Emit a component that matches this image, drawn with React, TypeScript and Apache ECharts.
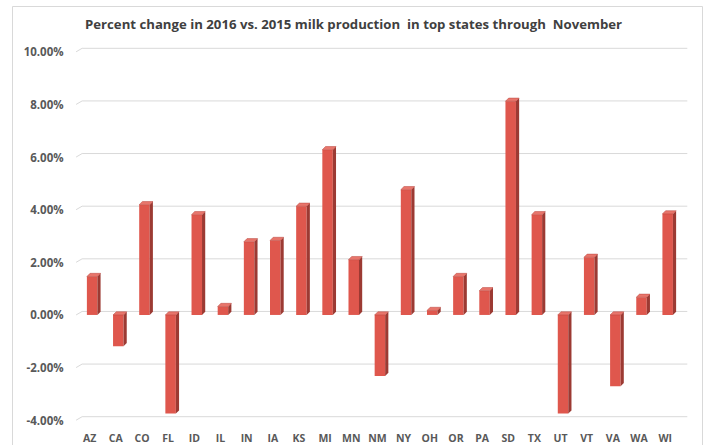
import React, { useEffect, useRef } from "react";
import * as echarts from "echarts";

const titleText =
  "Percent change in 2016 vs. 2015 milk production  in top states through  November";
const categories = [
  "AZ", "CA", "CO", "FL", "ID", "IL", "IN", "IA", "KS", "MI", "MN", "NM",
  "NY", "OH", "OR", "PA", "SD", "TX", "UT", "VT", "VA", "WA", "WI",
];
const values = [
  1.46, -1.19, 4.19, -3.75, 3.81, 0.32, 2.78, 2.83, 4.13, 6.28, 2.1, -2.32,
  4.76, 0.17, 1.46, 0.92, 8.12, 3.81, -3.75, 2.19, -2.71, 0.67, 3.84,
];
const yTicks = [-4, -2, 0, 2, 4, 6, 8, 10];

export default function App() {
  const ref = useRef<HTMLDivElement>(null);
  useEffect(() => {
    if (!ref.current) return;
    const chart = echarts.init(ref.current, null, { renderer: "svg" });
    const font = "'Open Sans', sans-serif";
    chart.setOption({
      animation: false,
      backgroundColor: "#ffffff",
      title: {
        text: titleText,
        left: "center",
        top: 12,
        textStyle: { fontSize: 13.2, fontWeight: "bold", color: "#404040", fontFamily: font },
      },
      graphic: [
        {
          type: "rect",
          left: 10,
          top: 4,
          shape: { width: 690, height: 470 },
          style: { fill: "none", stroke: "#d9d9d9", lineWidth: 1 },
          silent: true,
        },
      ],
      grid: { left: 76.6, right: 28.7, top: 51.8, height: 368.4 },
      xAxis: {
        type: "category",
        data: categories,
        axisLine: { show: false },
        axisTick: { show: false },
        axisLabel: {
          interval: 0,
          margin: 12,
          fontSize: 10.5,
          fontWeight: "bold",
          color: "#595959",
          fontFamily: font,
        },
      },
      yAxis: {
        type: "value",
        min: -4,
        max: 10,
        interval: 2,
        splitLine: { show: false },
        axisLine: { show: false },
        axisTick: { show: false },
        axisLabel: {
          margin: 13,
          fontSize: 11.5,
          fontWeight: "bold",
          color: "#595959",
          fontFamily: font,
          formatter: (v: number) => v.toFixed(2) + "%",
        },
      },
      series: [
        {
          type: "custom",
          silent: true,
          z: 1,
          encode: { x: 0, y: 1 },
          data: yTicks.map((v) => [0, v]),
          renderItem: (params: any, api: any) => {
            const cs = params.coordSys;
            const y = api.coord([0, api.value(1)])[1];
            return {
              type: "polyline",
              shape: {
                points: [
                  [cs.x - 0.5, y],
                  [cs.x + 5.5, y - 3.5],
                  [cs.x + cs.width + 9, y - 3.5],
                ],
              },
              style: { stroke: "#d9d9d9", lineWidth: 1, fill: null },
            };
          },
        },
        {
          type: "custom",
          z: 2,
          encode: { x: 0, y: 1 },
          data: values.map((v, i) => [i, v]),
          renderItem: (params: any, api: any) => {
            const idx = api.value(0);
            const pv = api.coord([idx, api.value(1)]);
            const p0 = api.coord([idx, 0]);
            const cx = pv[0];
            const top = Math.min(pv[1], p0[1]);
            const bot = Math.max(pv[1], p0[1]);
            const xl = cx - 2.8;
            const xr = cx + 7.7;
            const d = 3.2;
            return {
              type: "group",
              children: [
                {
                  type: "rect",
                  shape: { x: xl, y: top, width: xr - xl, height: bot - top },
                  style: { fill: "#df574d" },
                },
                {
                  type: "polygon",
                  shape: {
                    points: [
                      [xr, top],
                      [xr + d, top - d],
                      [xr + d, bot - d],
                      [xr, bot],
                    ],
                  },
                  style: { fill: "#9c3a33" },
                },
                {
                  type: "polygon",
                  shape: {
                    points: [
                      [xl, top],
                      [xl + d, top - d],
                      [xr + d, top - d],
                      [xr, top],
                    ],
                  },
                  style: { fill: "#e8756b", stroke: "#b9463e", lineWidth: 0.5 },
                },
              ],
            };
          },
        },
      ],
    });
    return () => chart.dispose();
  }, []);
  return (
    <div
      ref={ref}
      style={{ position: "absolute", left: 0, top: 0, width: 707, height: 445 }}
    />
  );
}
